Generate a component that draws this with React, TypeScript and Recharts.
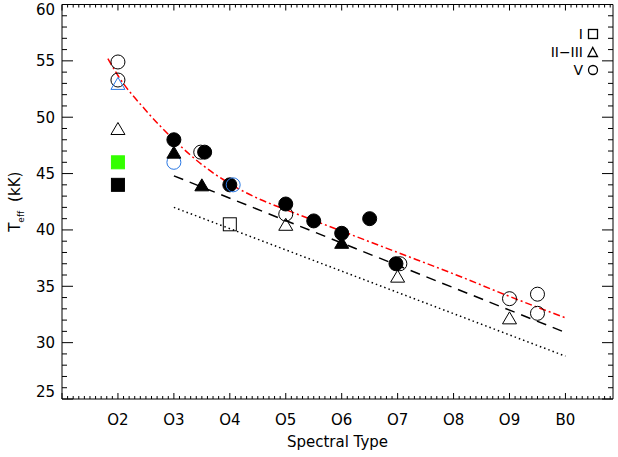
import React from 'react';
import { ComposedChart, Scatter, Line, XAxis, YAxis, ReferenceLine } from 'recharts';

const FONT = '"DejaVu Sans", sans-serif';

// spectral type on the x axis: O2 = 2 ... O9 = 9, B0 = 10
const typeTicks = [2, 3, 4, 5, 6, 7, 8, 9, 10];
const typeLabels = ['O2', 'O3', 'O4', 'O5', 'O6', 'O7', 'O8', 'O9', 'B0'];
const teffLabels = [25, 30, 35, 40, 45, 50, 55, 60];

// class V
const dwarfsOpen = [
  { x: 2, y: 54.9 }, { x: 2, y: 53.3 }, { x: 3.48, y: 46.9 }, { x: 5, y: 41.4 },
  { x: 7.04, y: 37.0 }, { x: 9, y: 33.9 }, { x: 9.5, y: 34.3 }, { x: 9.5, y: 32.6 },
];
const dwarfsFilled = [
  { x: 3, y: 48.0 }, { x: 3.55, y: 46.9 }, { x: 4, y: 44.0 }, { x: 5, y: 42.3 },
  { x: 5.5, y: 40.8 }, { x: 6, y: 39.7 }, { x: 6.5, y: 41.0 }, { x: 6.97, y: 37.0 },
];
const dwarfsBlue = [{ x: 3, y: 46.0 }, { x: 4.06, y: 44.0 }];

// class II-III
const giantsOpen = [{ x: 2, y: 49.0 }, { x: 5, y: 40.5 }, { x: 7, y: 35.9 }, { x: 9, y: 32.2 }];
const giantsFilled = [{ x: 3, y: 46.9 }, { x: 3.5, y: 44.0 }, { x: 6, y: 38.9 }];
const giantsBlue = [{ x: 2, y: 53.0 }];

// class I
const supergiantsOpen = [{ x: 4, y: 40.5 }];
const greenSquare = [{ x: 2, y: 46.0 }];
const blackSquare = [{ x: 2, y: 44.0 }];

// calibrations
const dwarfsCurve = [
  { x: 1.82, y: 55.2 }, { x: 2, y: 53.7 }, { x: 2.5, y: 50.6 }, { x: 3, y: 48.0 },
  { x: 3.5, y: 45.8 }, { x: 4, y: 44.1 }, { x: 4.5, y: 42.8 }, { x: 5, y: 41.8 },
  { x: 6, y: 39.9 }, { x: 7, y: 38.0 }, { x: 8, y: 36.1 }, { x: 9, y: 34.1 }, { x: 10, y: 32.2 },
];
const giantsLine = [{ x: 3, y: 44.8 }, { x: 10, y: 30.9 }];
const supergiantsLine = [{ x: 3, y: 42.0 }, { x: 10, y: 28.8 }];

const legendRows = [
  { label: 'I', mark: 'square' },
  { label: 'II\u2212III', mark: 'triangle' },
  { label: 'V', mark: 'circle' },
];

const X_DOMAIN: [number, number] = [1, 10.85];
const Y_DOMAIN: [number, number] = [25, 60];
const BLUE = '#2a78e4';
const GREEN = '#33ff00';

// plot box, from the chart margins and axis sizes below
const MARGIN = { top: 4.5, right: 5, bottom: 0, left: 0 };
const W = 618;
const H = 457;
const Y_AXIS_W = 62;
const X_AXIS_H = 58;
const BOX = { left: Y_AXIS_W, right: W - MARGIN.right, top: MARGIN.top, bottom: H - X_AXIS_H };

const xTicks = Array.from({ length: 99 }, (_, i) => Math.round(10 + i) / 10);
const yTicks = Array.from({ length: 36 }, (_, i) => 25 + i);

const isMajorX = (v: number) => Math.abs(v - Math.round(v)) < 1e-6;

function BottomTick({ x, y, payload }: any) {
  const v = payload.value;
  const major = isMajorX(v);
  const idx = major ? typeTicks.indexOf(Math.round(v)) : -1;
  return (
    <g>
      <line x1={x} x2={x} y1={y} y2={y - (major ? 6 : 3)} stroke="#000" />
      {idx >= 0 && (
        <text x={x} y={y + 26} textAnchor="middle" fontSize={15} fontFamily={FONT} fill="#000">
          {typeLabels[idx]}
        </text>
      )}
    </g>
  );
}

function LeftTick({ x, y, payload }: any) {
  const v = payload.value;
  const major = teffLabels.includes(v);
  // keep the end labels inside the picture, as the original does
  const base = Math.min(Math.max(y + 5.5, 15), 397);
  return (
    <g>
      <line x1={x} x2={x + (major ? 11 : 5)} y1={y} y2={y} stroke="#000" />
      {major && (
        <text x={x - 7} y={base} textAnchor="end" fontSize={15} fontFamily={FONT} fill="#000">
          {v}
        </text>
      )}
    </g>
  );
}

function YLabel({ viewBox }: any) {
  const vb = viewBox || { x: 0, y: 4.5, width: 62, height: 394 };
  return (
    <text
      transform={`translate(${vb.x + 20},${vb.y + vb.height / 2}) rotate(-90)`}
      textAnchor="middle"
      fontSize={15}
      fontFamily={FONT}
      fill="#000"
    >
      T<tspan fontSize={9} dy={4}>eff</tspan>
      <tspan dy={-4} dx={9}>(kK)</tspan>
    </text>
  );
}

function XLabel({ viewBox }: any) {
  const vb = viewBox || { x: 62, y: 399, width: 551, height: 58 };
  return (
    <text x={vb.x + vb.width / 2} y={vb.y + 48} textAnchor="middle" fontSize={15} fontFamily={FONT} fill="#000">
      Spectral Type
    </text>
  );
}

const circle = (fill: string, stroke: string) => (p: any) =>
  <circle cx={p.cx} cy={p.cy} r={7} fill={fill} stroke={stroke} strokeWidth={1} />;

const triangle = (fill: string, stroke: string) => (p: any) =>
  <polygon
    points={`${p.cx - 7},${p.cy + 6} ${p.cx + 7},${p.cy + 6} ${p.cx},${p.cy - 6}`}
    fill={fill}
    stroke={stroke}
    strokeWidth={1}
  />;

const square = (fill: string, stroke: string) => (p: any) =>
  <rect x={p.cx - 6.5} y={p.cy - 6.5} width={13} height={13} fill={fill} stroke={stroke} strokeWidth={1} />;

// separate layer over the chart: inward ticks on the top and right sides, and the class legend
function Overlay() {
  const px = (v: number) => BOX.left + ((v - X_DOMAIN[0]) / (X_DOMAIN[1] - X_DOMAIN[0])) * (BOX.right - BOX.left);
  const py = (v: number) => BOX.bottom - ((v - Y_DOMAIN[0]) / (Y_DOMAIN[1] - Y_DOMAIN[0])) * (BOX.bottom - BOX.top);
  return (
    <svg width={W} height={H} style={{ position: 'absolute', left: 0, top: 0, pointerEvents: 'none' }}>
      {xTicks.map((v) => (
        <line key={`t${v}`} x1={px(v)} x2={px(v)} y1={BOX.top} y2={BOX.top + (isMajorX(v) ? 6 : 3)}
          stroke="#000" strokeWidth={1} />
      ))}
      {yTicks.map((v) => (
        <line key={`r${v}`} x1={BOX.right} x2={BOX.right - (teffLabels.includes(v) ? 11 : 5)} y1={py(v)} y2={py(v)}
          stroke="#000" strokeWidth={1} />
      ))}
      {legendRows.map((r, i) => {
        const cy = [34, 52, 70][i];
        return (
          <g key={r.label}>
            <text x={583} y={cy + 5} textAnchor="end" fontSize={14} fontFamily={FONT} fill="#000000">
              {r.label}
            </text>
            {r.mark === 'square' && <rect x={588.5} y={cy - 4.5} width={9} height={9} fill="none" stroke="#000" strokeWidth={1.3} />}
            {r.mark === 'triangle' && (
              <polygon points={`588,${cy + 4.5} 597.5,${cy + 4.5} 592.75,${cy - 4.5}`} fill="none" stroke="#000" strokeWidth={1.3} />
            )}
            {r.mark === 'circle' && <circle cx={593} cy={cy} r={4.5} fill="none" stroke="#000" strokeWidth={1.3} />}
          </g>
        );
      })}
    </svg>
  );
}

export default function App() {
  return (
    <div style={{ position: 'absolute', left: 0, top: 0, width: W, height: H, background: '#fff' }}>
      <ComposedChart width={W} height={H} margin={MARGIN}>
        <XAxis
          dataKey="x"
          type="number"
          domain={X_DOMAIN}
          ticks={xTicks}
          interval={0}
          allowDataOverflow
          height={X_AXIS_H}
          stroke="#000"
          tickSize={0}
          tickMargin={0}
          tickLine={false}
          tick={<BottomTick />}
          label={<XLabel />}
        />
        <YAxis
          dataKey="y"
          type="number"
          domain={Y_DOMAIN}
          ticks={yTicks}
          interval={0}
          allowDataOverflow
          width={Y_AXIS_W}
          stroke="#000"
          tickSize={0}
          tickMargin={0}
          tickLine={false}
          tick={<LeftTick />}
          label={<YLabel />}
        />

        {/* plot frame: top and right sides */}
        <ReferenceLine y={Y_DOMAIN[1]} stroke="#000" />
        <ReferenceLine x={X_DOMAIN[1]} stroke="#000" />

        <Scatter data={dwarfsOpen} shape={circle('none', '#000')} isAnimationActive={false} />
        <Scatter data={dwarfsFilled} shape={circle('#000', '#000')} isAnimationActive={false} />
        <Scatter data={dwarfsBlue} shape={circle('none', BLUE)} isAnimationActive={false} />
        <Scatter data={giantsOpen} shape={triangle('none', '#000')} isAnimationActive={false} />
        <Scatter data={giantsFilled} shape={triangle('#000', '#000')} isAnimationActive={false} />
        <Scatter data={giantsBlue} shape={triangle('none', BLUE)} isAnimationActive={false} />
        <Scatter data={supergiantsOpen} shape={square('none', '#000')} isAnimationActive={false} />
        <Scatter data={greenSquare} shape={square(GREEN, GREEN)} isAnimationActive={false} />
        <Scatter data={blackSquare} shape={square('#000', '#000')} isAnimationActive={false} />

        <Line data={supergiantsLine} dataKey="y" type="linear" stroke="#000" strokeWidth={1.5}
          strokeDasharray="1.5 3" dot={false} activeDot={false} isAnimationActive={false} />
        <Line data={giantsLine} dataKey="y" type="linear" stroke="#000" strokeWidth={1.5}
          strokeDasharray="10 7" dot={false} activeDot={false} isAnimationActive={false} />
        <Line data={dwarfsCurve} dataKey="y" type="monotone" stroke="#ff0000" strokeWidth={1.5}
          strokeDasharray="7 3 2 3" dot={false} activeDot={false} isAnimationActive={false} />
      </ComposedChart>
      <Overlay />
    </div>
  );
}
